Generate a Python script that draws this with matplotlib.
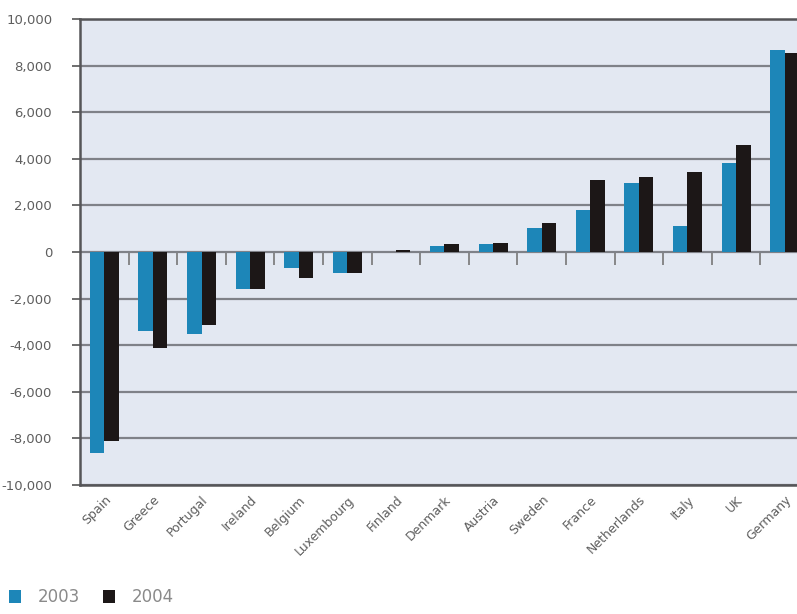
import matplotlib.pyplot as plt
import numpy as np

# -----------------------------
# DATA
# -----------------------------

countries = ["Spain", "Greece", "Portugal", "Ireland", "Belgium", "Luxembourg",
             "Finland", "Denmark", "Austria", "Sweden", "France", "Netherlands",
             "Italy", "UK", "Germany"]
values_2003 = [-8630, -3400, -3500, -1600, -700, -900, 10, 250, 350, 1050,
               1800, 2950, 1100, 3800, 8650]
values_2004 = [-8100, -4100, -3150, -1600, -1100, -900, 80, 330, 400, 1250,
               3100, 3200, 3450, 4600, 8550]
y_ticks = list(range(-10000, 10001, 2000))

blue = "#1d86b8"
black = "#1c1717"
label_gray = "#5e5e5e"

plt.rcParams["font.family"] = ["Liberation Sans Narrow", "DejaVu Sans"]

# -----------------------------
# CHART
# -----------------------------

fig = plt.figure(figsize=(7.97, 6.14), dpi=100)
ax = fig.add_axes([80 / 797, 129 / 614, 729 / 797, 466 / 614])
ax.set_facecolor("#e3e8f2")

x = np.arange(len(countries))
w = 0.3
ax.bar(x - w / 2, values_2003, w, color=blue, label="2003", zorder=3)
ax.bar(x + w / 2, values_2004, w, color=black, label="2004", zorder=3)

ax.set_xlim(-0.5, len(countries) - 0.5)
ax.set_ylim(-10000, 10000)
ax.set_yticks(y_ticks)
ax.set_yticklabels([f"{v:,}" for v in y_ticks], fontsize=9.5, color=label_gray)
ax.yaxis.grid(True, color="#7f8188", linewidth=1.6, zorder=1)
ax.set_axisbelow(True)

ax.set_xticks(x)
ax.set_xticklabels(countries, rotation=45, ha="right", rotation_mode="anchor",
                   fontsize=9, color=label_gray)
ax.tick_params(axis="x", length=0, pad=6)
ax.tick_params(axis="y", length=6, width=1.2, color="#555555", pad=14)

for side in ["left", "bottom", "top"]:
    ax.spines[side].set_color("#555558")
    ax.spines[side].set_linewidth(1.8)
ax.spines["right"].set_visible(False)

# small ticks hanging from the zero line between groups
sec = ax.secondary_xaxis(0.5)
sec.set_xticks(x[:-1] + 0.5)
sec.set_xticklabels([])
sec.tick_params(length=9, width=1.2, color="#777777", direction="in")
for s in sec.spines.values():
    s.set_visible(False)

fig.legend(loc="lower left", bbox_to_anchor=(-0.007, -0.012), ncol=2, frameon=False,
           labelcolor="#8a8a8a", handlelength=0.7, handleheight=0.8,
           columnspacing=1.4, handletextpad=1.0,
           prop={"family": ["DejaVu Sans"], "size": 12})

fig.savefig("out.png", dpi=100)
